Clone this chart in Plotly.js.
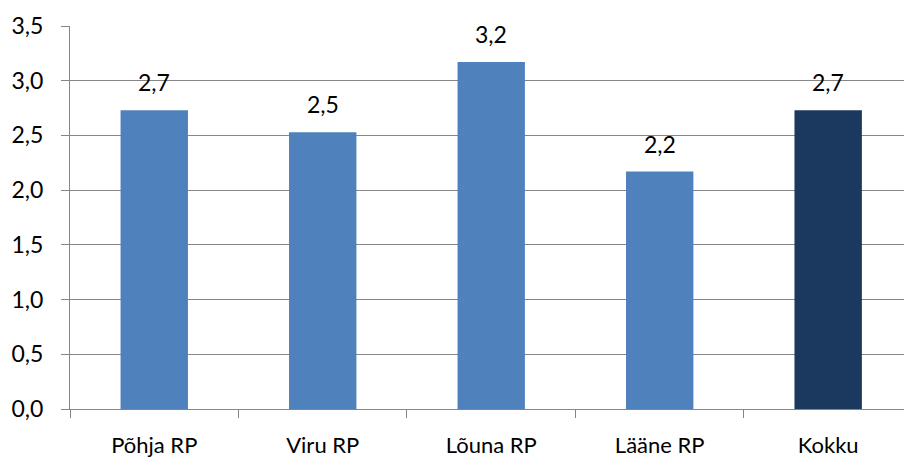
<!DOCTYPE html>
<html>
<head>
<meta charset="utf-8">
<script src="https://cdn.plot.ly/plotly-3.0.1.min.js"></script>
<style>html,body{margin:0;padding:0;background:#fff}#chart{width:904px;height:461px}</style>
</head>
<body>
<div id="chart"></div>
<script>
const categories = ["Põhja RP", "Viru RP", "Lõuna RP", "Lääne RP", "Kokku"];
const values = [2.73, 2.53, 3.17, 2.17, 2.73];
const barColors = ["#4F81BD", "#4F81BD", "#4F81BD", "#4F81BD", "#1B385E"];
const yTicks = [0, 0.5, 1, 1.5, 2, 2.5, 3, 3.5];

const fontFam = "Lato, 'Open Sans', sans-serif";
const fs = 22;
const trace = {
  type: "bar",
  x: categories,
  y: values,
  marker: {color: barColors},
  width: 0.4,
  hoverinfo: "none"
};
const annotations = categories.map((c, i) => ({
  x: c, y: values[i], xref: "x", yref: "y",
  text: values[i].toFixed(1).replace(".", ","),
  showarrow: false, yanchor: "middle", yshift: 28,
  font: {family: fontFam, size: 23, color: "#000"}
}));
const layout = {
  width: 904, height: 461,
  margin: {l: 70, r: 0, t: 26, b: 52},
  paper_bgcolor: "#fff", plot_bgcolor: "#fff",
  separators: ",.",
  showlegend: false,
  font: {family: fontFam, size: fs, color: "#000"},
  xaxis: {
    type: "category",
    range: [-0.5, 4.45],
    tickson: "boundaries",
    ticks: "outside", ticklen: 8, tickcolor: "#868686", tickwidth: 1,
    showline: true, linecolor: "#868686", linewidth: 1,
    showgrid: false,
    ticklabelstandoff: 17,
    tickfont: {family: fontFam, size: fs, color: "#000"}
  },
  yaxis: {
    range: [0, 3.5],
    tickvals: yTicks,
    ticktext: yTicks.map(v => v.toFixed(1).replace(".", ",")),
    ticks: "outside", ticklen: 8, tickcolor: "#868686", tickwidth: 1,
    showline: true, linecolor: "#868686", linewidth: 1,
    showgrid: true, gridcolor: "#868686", gridwidth: 1,
    zeroline: false,
    ticklabelstandoff: 13,
    tickfont: {family: fontFam, size: 23, color: "#000"}
  },
  annotations: annotations
};
Plotly.newPlot("chart", [trace], layout, {displayModeBar: false, staticPlot: true});
</script>
</body>
</html>
